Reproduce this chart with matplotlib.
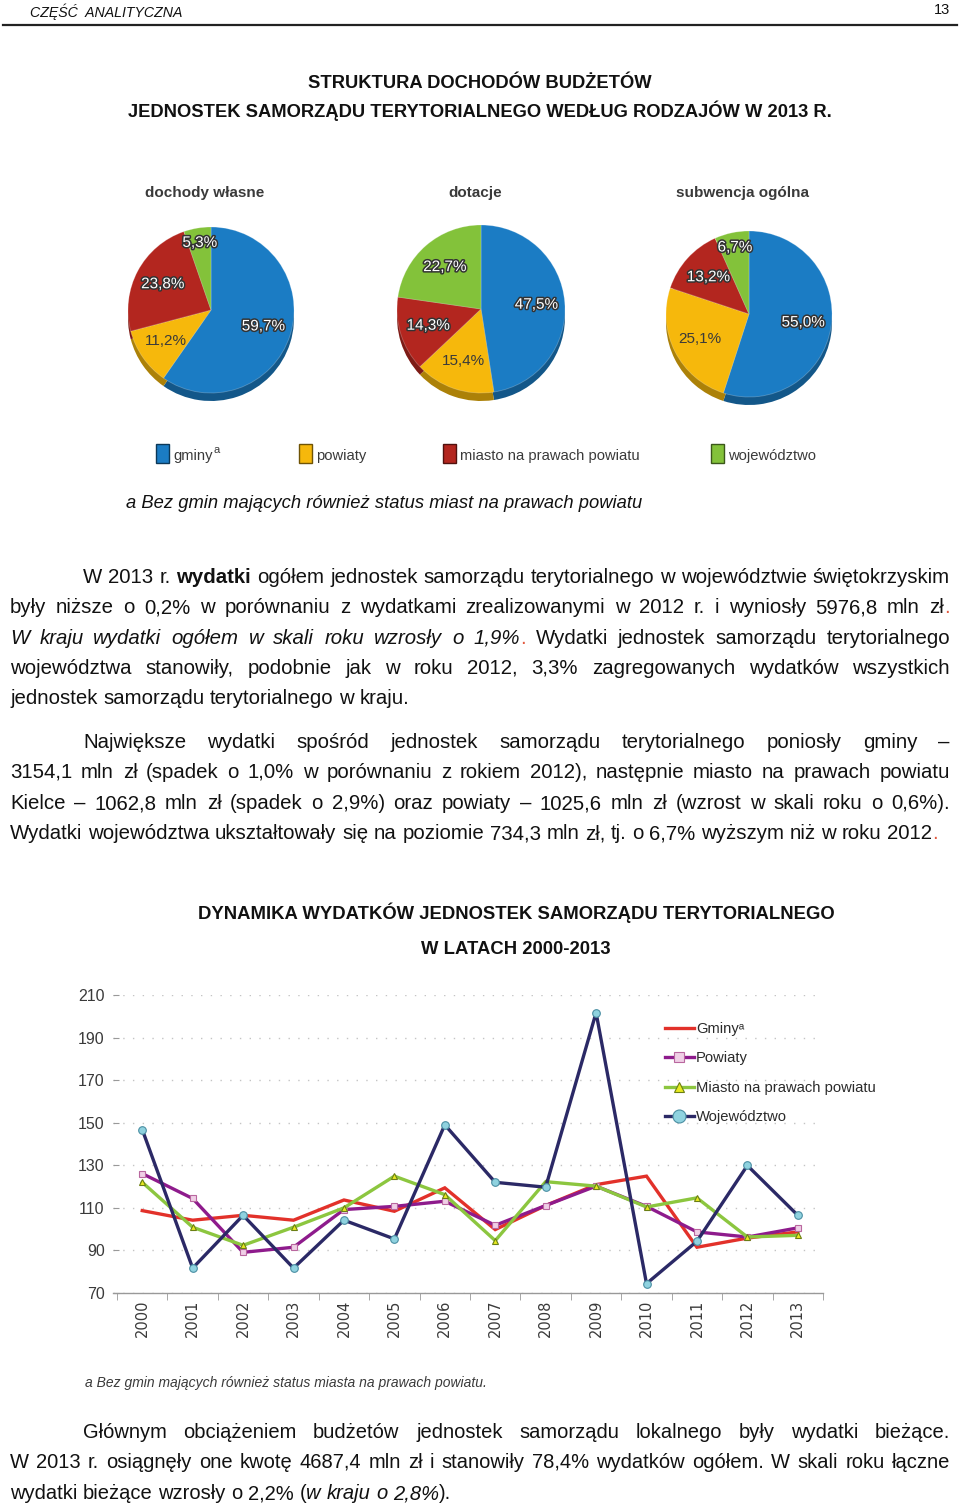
import matplotlib
matplotlib.use('Agg')
import matplotlib.pyplot as plt
import matplotlib.patheffects as pe
from matplotlib.patches import Rectangle
from matplotlib.colors import to_rgb
import numpy as np

# ---------------- data ----------------
pie_titles = ['dochody własne', 'dotacje', 'subwencja ogólna']
pie_categories = ['gminy', 'powiaty', 'miasto na prawach powiatu', 'województwo']
dochody_wlasne = [59.7, 11.2, 23.8, 5.3]
dotacje = [47.5, 15.4, 14.3, 22.7]
subwencja_ogolna = [55.0, 25.1, 13.2, 6.7]

years = ['2000', '2001', '2002', '2003', '2004', '2005', '2006',
         '2007', '2008', '2009', '2010', '2011', '2012', '2013']
gminy = [108.7, 104.2, 106.5, 104.2, 113.7, 108.4, 119.4,
         99.8, 111.1, 120.9, 124.9, 91.5, 95.8, 98.7]
powiaty = [126.1, 114.4, 89.1, 91.5, 109.2, 110.7, 113.1,
           101.8, 111.1, 120.2, 110.7, 98.7, 96.3, 100.6]
miasto = [122.0, 100.9, 92.4, 100.9, 110.0, 124.9, 116.2,
          94.6, 122.3, 120.2, 110.4, 114.7, 96.3, 97.1]
wojewodztwo = [146.8, 81.7, 106.5, 81.7, 104.2, 95.4, 149.0,
               122.0, 119.7, 201.7, 74.4, 94.3, 129.9, 106.5]
line_labels = ['Gminyᵃ', 'Powiaty', 'Miasto na prawach powiatu', 'Województwo']
y_ticks = [70, 90, 110, 130, 150, 170, 190, 210]

# ---------------- setup ----------------
W, H = 960, 1505
fig = plt.figure(figsize=(W / 100, H / 100), dpi=100)
page = fig.add_axes([0, 0, 1, 1])
page.set_xlim(0, W)
page.set_ylim(H, 0)
page.axis('off')
renderer = fig.canvas.get_renderer()

ARIAL = ['Liberation Sans', 'DejaVu Sans']
NARROW = ['Liberation Sans', 'DejaVu Sans']
TXT = '#111111'


def px_axes(x0, y0, w, h):
    return fig.add_axes([x0 / W, 1 - (y0 + h) / H, w / W, h / H])


# ---------------- header ----------------
page.text(30, 17, 'CZĘŚĆ  ANALITYCZNA', family=NARROW, style='italic',
          fontsize=10.2, color=TXT, va='baseline')
page.text(950, 14, '13', family=NARROW, fontsize=10.5, color=TXT,
          ha='right', va='baseline')
page.plot([3, 957], [24.5, 24.5], color='#222222', lw=1.6)

page.text(480, 84, 'STRUKTURA DOCHODÓW BUDŻETÓW', family=ARIAL,
          weight='bold', fontsize=13.2, color=TXT, ha='center', va='center')
page.text(480, 111, 'JEDNOSTEK SAMORZĄDU TERYTORIALNEGO WEDŁUG RODZAJÓW W 2013 R.',
          family=ARIAL, weight='bold', fontsize=13.2, color=TXT,
          ha='center', va='center')

# ---------------- pies ----------------
pie_colors = ['#1b7cc4', '#f6b80c', '#b3261f', '#83c23a']


def darker(c, f=0.7):
    r, g, b = to_rgb(c)
    return (r * f, g * f, b * f)


def draw_pie(cx, cy, r, values, title):
    size = 2 * r + 40
    ax = px_axes(cx - size / 2, cy - size / 2, size, size)
    depth = 8 / r
    ax.pie(values, colors=[darker(c) for c in pie_colors], startangle=90,
           counterclock=False, radius=1, center=(0, -depth),
           wedgeprops=dict(linewidth=0))
    wedges, _ = ax.pie(values, colors=pie_colors, startangle=90,
                       counterclock=False, radius=1, center=(0, 0),
                       wedgeprops=dict(linewidth=0.6, edgecolor=(1, 1, 1, 0.25)))
    lim = size / 2 / r
    ax.set_xlim(-lim, lim)
    ax.set_ylim(-lim, lim)
    ax.set_aspect('equal')
    ax.axis('off')
    for w, v, c in zip(wedges, values, pie_colors):
        mid = np.deg2rad((w.theta1 + w.theta2) / 2)
        d = 0.82 if v < 10 else 0.66
        lbl = f'{v:.1f}%'.replace('.', ',')
        if c == '#f6b80c':
            ax.text(d * np.cos(mid), d * np.sin(mid), lbl, family=NARROW,
                    fontsize=11, color='#3a3a3a', ha='center', va='center')
        else:
            ax.text(d * np.cos(mid), d * np.sin(mid), lbl, family=NARROW,
                    fontsize=11, color='white', ha='center', va='center',
                    path_effects=[pe.withStroke(linewidth=2.2, foreground='#333333')])
    page.text(cx - 6, 193, title, family=NARROW, weight='bold', fontsize=11,
              color='#3a3a3a', ha='center', va='center')


draw_pie(211, 310, 83, dochody_wlasne, pie_titles[0])
draw_pie(481, 309, 84, dotacje, pie_titles[1])
draw_pie(749, 314, 83, subwencja_ogolna, pie_titles[2])

# pie legend
leg_x = [156, 299, 443, 711]
for x, c, lab in zip(leg_x, pie_colors, pie_categories):
    page.add_patch(Rectangle((x, 444), 13, 19, facecolor=c,
                             edgecolor=darker(c, 0.45), lw=1))
    page.text(x + 17, 456, lab, family=NARROW, fontsize=10.6, color='#3a3a3a',
              ha='left', va='center')
page.text(213, 450, 'a', family=NARROW, fontsize=8, color='#3a3a3a',
          ha='left', va='center')

page.text(126, 504, 'a Bez gmin mających również status miast na prawach powiatu',
          family=ARIAL, style='italic', fontsize=13.2, color=TXT,
          ha='left', va='center')

# ---------------- justified paragraphs ----------------
N = dict(family=ARIAL, fontsize=14.7, color=TXT)
B = dict(N, weight='bold')
I = dict(N, style='italic')
R = dict(N, color='#e25a40')
NN = dict(family=NARROW, fontsize=14.5, color=TXT)
NI = dict(NN, style='italic')


def measure(text, st):
    t = page.text(0, 0, text, **st)
    w = t.get_window_extent(renderer).width
    t.remove()
    return w


def words_from_segments(segs):
    words = []
    attach = False
    for text, st in segs:
        parts = text.split(' ')
        for k, p in enumerate(parts):
            if k > 0:
                attach = False
            if p == '':
                continue
            if attach and words:
                words[-1].append((p, st))
            else:
                words.append([(p, st)])
            attach = True
        attach = not text.endswith(' ')
    return words


def draw_line(segs, x0, x1, y, justify=True):
    words = words_from_segments(segs)
    widths = [[measure(t, st) for t, st in w] for w in words]
    totals = [sum(ws) for ws in widths]
    st0 = segs[0][1]
    if justify and len(words) > 1:
        gap = (x1 - x0 - sum(totals)) / (len(words) - 1)
    else:
        gap = measure('a a', st0) - measure('aa', st0)
    x = x0
    for w, ws in zip(words, widths):
        for (t, st), sw in zip(w, ws):
            page.text(x, y, t, ha='left', va='baseline', **st)
            x += sw
        x += gap


LM, RM, IND = 10, 950, 83

para1 = [
    [('W 2013 r. ', N), ('wydatki', B), (' ogółem jednostek samorządu terytorialnego w województwie świętokrzyskim', N)],
    [('były niższe o 0,2% w porównaniu z wydatkami zrealizowanymi w 2012 r. i wyniosły 5976,8 mln zł', N), ('.', R)],
    [('W kraju wydatki ogółem w skali roku wzrosły o 1,9%', I), ('.', R), (' Wydatki jednostek samorządu terytorialnego', N)],
    [('województwa stanowiły, podobnie jak w roku 2012, 3,3% zagregowanych wydatków wszystkich', N)],
    [('jednostek samorządu terytorialnego w kraju.', N)],
]
para2 = [
    [('Największe wydatki spośród jednostek samorządu terytorialnego poniosły gminy –', N)],
    [('3154,1 mln zł (spadek o 1,0% w porównaniu z rokiem 2012), następnie miasto na prawach powiatu', N)],
    [('Kielce – 1062,8 mln zł (spadek o 2,9%) oraz powiaty – 1025,6 mln zł (wzrost w skali roku o 0,6%).', N)],
    [('Wydatki województwa ukształtowały się na poziomie 734,3 mln zł, tj. o 6,7% wyższym niż w roku 2012', N), ('.', R)],
]
para3 = [
    [('Głównym obciążeniem budżetów jednostek samorządu lokalnego były wydatki bieżące.', NN)],
    [('W 2013 r. osiągnęły one kwotę 4687,4 mln zł i stanowiły 78,4% wydatków ogółem. W skali roku łączne', NN)],
    [('wydatki bieżące wzrosły o 2,2% (', NN), ('w kraju o 2,8%', NI), (').', NN)],
]


def draw_para(lines, baselines):
    for k, (segs, y) in enumerate(zip(lines, baselines)):
        x0 = IND if k == 0 else LM
        draw_line(segs, x0, RM, y, justify=(k < len(lines) - 1))


draw_para(para1, [583, 613, 644, 674, 704])
draw_para(para2, [748, 778, 809, 839])
draw_para(para3, [1438, 1468, 1499])

# ---------------- line chart ----------------
page.text(516, 913, 'DYNAMIKA WYDATKÓW JEDNOSTEK SAMORZĄDU TERYTORIALNEGO',
          family=ARIAL, weight='bold', fontsize=13.3, color=TXT,
          ha='center', va='center')
page.text(516, 949, 'W LATACH 2000-2013', family=ARIAL, weight='bold',
          fontsize=13.3, color=TXT, ha='center', va='center')

ax = px_axes(113, 995, 710, 298)
x = np.arange(len(years))
ax.plot(x, gminy, color='#e2312a', lw=2.4, label=line_labels[0],
        solid_joinstyle='miter', clip_on=False, zorder=3)
ax.plot(x, powiaty, color='#8e1b8c', lw=2.4, marker='s', ms=4,
        mfc='#f0cfe6', mec='#b9679f', mew=0.8, label=line_labels[1],
        clip_on=False, zorder=3)
ax.plot(x, miasto, color='#8cc63f', lw=2.4, marker='^', ms=4,
        mfc='#e8ea20', mec='#6b7f15', mew=0.8, label=line_labels[2],
        clip_on=False, zorder=3)
ax.plot(x, wojewodztwo, color='#2b2966', lw=2.4, marker='o', ms=5.5,
        mfc='#8fd2df', mec='#4b8fa3', mew=0.8, label=line_labels[3],
        clip_on=False, zorder=4)

ax.set_xlim(-0.58, 13.49)
ax.set_ylim(70, 210)
ax.set_yticks(y_ticks)
ax.set_xticks(x)
ax.set_xticklabels(years, rotation=90, family='DejaVu Sans', fontsize=10.5,
                   color='#3a3a3a', va='top')
ax.set_xticks(np.arange(-0.5, 14, 1), minor=True)
ax.tick_params(axis='x', which='major', length=0, pad=5)
ax.tick_params(axis='x', which='minor', length=5, color='#999999',
               direction='out')
ax.tick_params(axis='y', length=4, color='#999999', direction='in',
               pad=6, labelcolor='#3a3a3a')
for t in ax.get_yticklabels():
    t.set_family(NARROW)
    t.set_fontsize(11.5)
for s in ['top', 'right', 'left']:
    ax.spines[s].set_visible(False)
ax.spines['bottom'].set_color('#999999')
ax.spines['bottom'].set_linewidth(1)
ax.grid(axis='y', color='#c4c4c4', lw=1, linestyle=(0, (1, 6)))
ax.set_axisbelow(True)
ax.patch.set_alpha(0)

leg = ax.legend(loc='upper left', bbox_to_anchor=(0.777, 0.91),
                frameon=False, borderpad=0, borderaxespad=0,
                handlelength=2.0, handletextpad=0.12, labelspacing=1.05,
                markerscale=1.7,
                prop=dict(family=NARROW, size=10.6))
for t in leg.get_texts():
    t.set_color('#2a2a2a')

page.text(85, 1383, 'a Bez gmin mających również status miasta na prawach powiatu.',
          family=NARROW, style='italic', fontsize=10, color='#3a3a3a',
          ha='left', va='center')

fig.savefig('out.png', dpi=100, facecolor='white')
